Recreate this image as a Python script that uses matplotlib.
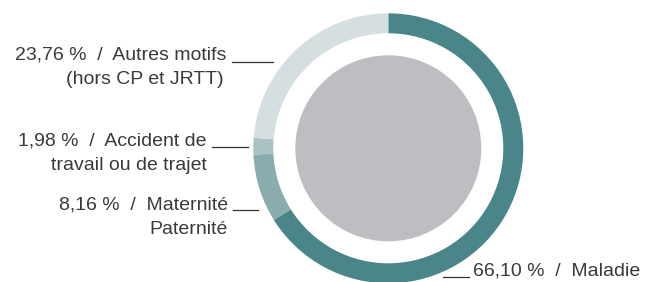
import matplotlib.pyplot as plt
from matplotlib.patches import Circle

labels = ['Maladie', 'Maternité\nPaternité', 'Accident de\ntravail ou de trajet', 'Autres motifs\n(hors CP et JRTT)']
shares = [66.10, 8.16, 1.98, 23.76]
colors = ['#4a8589', '#8aacae', '#abc2c5', '#d5dfe2']

W, H = 645, 282
fig = plt.figure(figsize=(W / 100, H / 100), dpi=100)
ax = fig.add_axes([0, 0, 1, 1])
ax.set_xlim(0, W)
ax.set_ylim(0, H)
ax.set_aspect('equal')
ax.axis('off')

cx, cy = 388.3, H - 148.3
ax.pie(shares, colors=colors, startangle=90, counterclock=False, radius=135,
       center=(cx, cy), wedgeprops=dict(width=20, linewidth=0))
ax.add_patch(Circle((cx, cy), 93, color='#bdbec1', lw=0))
ax.set_xlim(0, W)
ax.set_ylim(0, H)

def fmt(v):
    return f'{v:.2f}'.replace('.', ',') + ' %  /  '

txt = dict(fontsize=14, color='#3a3a3a', family='Liberation Sans')

# Autres motifs
ax.text(226, H - 55, fmt(shares[3]) + 'Autres motifs', ha='right', va='center', **txt)
ax.text(224, H - 79, '(hors CP et JRTT)', ha='right', va='center', **txt)
ax.plot([232, 273], [H - 61.5, H - 61.5], color='#333333', lw=0.9)

# Accident
ax.text(207, H - 141, fmt(shares[2]) + 'Accident de', ha='right', va='center', **txt)
ax.text(207, H - 165, 'travail ou de trajet', ha='right', va='center', **txt)
ax.plot([212, 248], [H - 147, H - 147], color='#333333', lw=0.9)

# Maternité
ax.text(228, H - 205, fmt(shares[1]) + 'Maternité', ha='right', va='center', **txt)
ax.text(228, H - 229, 'Paternité', ha='right', va='center', **txt)
ax.plot([233, 258], [H - 210, H - 210], color='#333333', lw=0.9)

# Maladie
ax.text(473, H - 271, fmt(shares[0]) + 'Maladie', ha='left', va='center', **txt)
ax.plot([443, 469], [H - 277, H - 277], color='#333333', lw=0.9)

fig.savefig('out.png', dpi=100)
